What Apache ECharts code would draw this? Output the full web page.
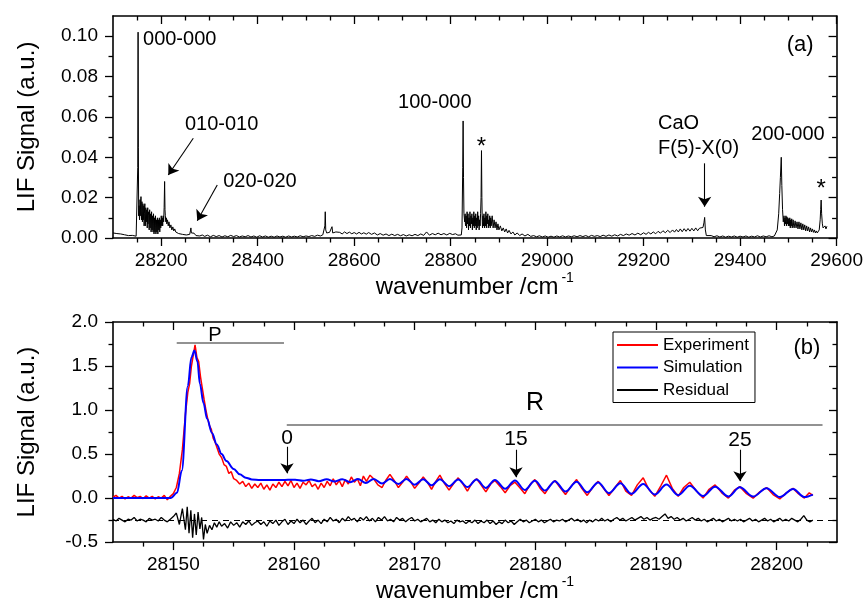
<!DOCTYPE html>
<html>
<head>
<meta charset="utf-8">
<script src="https://cdn.jsdelivr.net/npm/echarts@6/dist/echarts.min.js"></script>
<style>
  html, body { margin: 0; padding: 0; background: #fff; }
  #chart { width: 866px; height: 604px; }
</style>
</head>
<body>
<div id="chart"></div>
<script>
// ---------- (a) survey LIF spectrum, [wavenumber (cm-1), signal (a.u.)] ----------
const surveySpectrum = [
  [28100,0.0025],[28104,0.0018],[28108,0.0022],[28112,0.0028],[28116,0.002],[28120,0.0024],[28124,0.0016],
  [28128,0.0021],[28132,0.0012],[28136,0.0008],[28140,0.0013],[28144,0.0006],[28148,0.0009],[28150.5,0.0012],
  [28151.3,0.035],[28152,0.102],[28152.6,0.045],[28153.2,0.011],
  [28154,0.016],[28154.5,0.012],[28155,0.009],[28156,0.019],[28156.5,0.011],[28157,0.014],[28158,0.0205],[28158.5,0.012],
  [28159,0.009],[28160,0.018],[28160.5,0.013],[28161,0.008],[28162,0.017],[28162.5,0.011],[28163,0.009],[28164,0.016],
  [28164.5,0.006],[28165,0.012],[28166,0.017],[28166.5,0.009],[28167,0.006],[28168,0.015],[28168.5,0.011],[28169,0.008],
  [28170,0.014],[28170.5,0.009],[28171,0.005],[28172,0.015],[28172.5,0.007],[28173,0.011],[28174,0.013],[28174.5,0.006],
  [28175,0.004],[28176,0.014],[28176.5,0.008],[28177,0.005],[28178,0.012],[28178.5,0.009],[28179,0.003],[28180,0.013],
  [28180.5,0.007],[28181,0.004],[28182,0.011],[28182.5,0.006],[28183,0.003],[28184,0.012],[28184.5,0.007],[28185,0.002],
  [28186,0.010],[28186.5,0.005],[28187,0.003],[28188,0.011],[28188.5,0.006],[28189,0.002],[28190,0.009],[28191,0.003],
  [28192,0.010],[28193,0.002],[28194,0.009],[28195,0.004],[28196,0.010],[28197,0.003],[28198,0.009],[28199,0.005],
  [28200,0.011],[28201,0.006],[28202,0.010],[28203,0.006],[28204,0.011],[28205,0.008],[28206,0.015],[28207,0.028],
  [28207.8,0.014],[28208.5,0.011],[28209.5,0.008],[28210.5,0.010],[28211.5,0.007],[28213,0.009],[28214.5,0.006],
  [28216,0.008],[28218,0.005],[28220,0.0065],[28222,0.004],[28224,0.0055],[28226,0.0035],[28228,0.0045],[28230,0.003],
  [28233,0.0038],[28236,0.0022],[28240,0.003],[28244,0.0018],[28248,0.0024],[28252,0.0015],[28256,0.002],
  [28259,0.0018],[28260.5,0.0035],[28261.5,0.005],[28262.5,0.0025],[28265,0.0018],[28268,0.0024],[28272,0.0012],
  [28276,0.0018],[28280,0.001],[28285,0.0015],[28290,0.0008],[28296,0.0014],[28302,0.0006],[28308,0.0013],
  [28314,0.0007],[28320,0.0012],[28326,0.0005],[28332,0.0011],[28338,0.0006],[28344,0.0013],[28350,0.0007],
  [28356,0.0012],[28362,0.0005],[28368,0.001],[28374,0.0006],[28380,0.0012],[28386,0.0005],[28392,0.001],
  [28398,0.0004],[28404,0.0011],[28410,0.0005],[28416,0.001],[28422,0.0004],[28428,0.0009],[28434,0.0004],
  [28440,0.001],[28446,0.0005],[28452,0.0009],[28458,0.0004],[28464,0.001],[28470,0.0005],[28476,0.0009],
  [28482,0.0005],[28488,0.0011],[28494,0.0006],[28500,0.001],[28506,0.0007],[28512,0.0012],[28518,0.0008],
  [28524,0.0014],[28530,0.001],[28535,0.0016],[28538,0.002],[28539.2,0.006],[28540,0.013],[28541,0.004],
  [28543,0.0025],[28546,0.0018],[28549,0.0028],[28552,0.0022],[28554,0.0056],[28555.5,0.0025],[28558,0.002],
  [28562,0.003],[28566,0.0022],[28570,0.0028],[28575,0.002],[28580,0.003],[28585,0.0022],[28590,0.0029],
  [28595,0.0021],[28600,0.0027],[28605,0.002],[28610,0.0028],[28615,0.002],[28620,0.0026],[28625,0.0019],
  [28630,0.0027],[28636,0.0018],[28642,0.0025],[28648,0.0015],[28654,0.0022],[28660,0.0014],[28666,0.002],
  [28672,0.0012],[28678,0.0019],[28684,0.0012],[28690,0.0018],[28696,0.0011],[28702,0.0017],[28708,0.001],
  [28714,0.0016],[28720,0.0011],[28726,0.0018],[28732,0.0012],[28738,0.002],[28744,0.0013],[28750,0.003],
  [28756,0.0014],[28762,0.0022],[28768,0.0016],[28774,0.0024],[28780,0.0016],[28786,0.0022],[28792,0.0015],
  [28798,0.0023],[28804,0.0017],[28810,0.0021],[28815,0.0014],[28819,0.0018],[28822,0.0015],[28823.5,0.005],
  [28825,0.035],[28825.8,0.058],[28826.6,0.03],[28827.5,0.012],[28829,0.008],[28830,0.012],[28830.5,0.007],
  [28831,0.006],[28832,0.011],[28833,0.005],[28833.5,0.009],[28834,0.013],[28835,0.007],[28836,0.012],[28837,0.004],
  [28837.5,0.008],[28838,0.010],[28839,0.006],[28840,0.013],[28840.5,0.008],[28841,0.005],[28842,0.011],[28843,0.007],
  [28844,0.012],[28845,0.004],[28845.5,0.009],[28846,0.010],[28847,0.006],[28848,0.013],[28849,0.005],[28849.5,0.01],
  [28850,0.011],[28851,0.006],[28852,0.012],[28853,0.004],[28853.5,0.008],[28854,0.010],[28855,0.005],[28856,0.013],
  [28857,0.006],[28857.5,0.01],[28858,0.011],[28859,0.004],[28860,0.009],[28861,0.006],[28862,0.012],[28863,0.02],
  [28863.9,0.0433],[28864.7,0.02],[28865.5,0.008],[28866,0.005],[28867,0.011],[28867.5,0.008],[28868,0.006],
  [28869,0.012],[28870,0.005],[28870.5,0.009],[28871,0.010],[28872,0.006],[28873,0.013],[28874,0.005],[28874.5,0.009],
  [28875,0.011],[28876,0.007],[28877,0.012],[28878,0.005],[28879,0.009],[28880,0.006],[28881,0.011],[28882,0.005],
  [28883,0.010],[28884,0.006],[28886,0.011],[28888,0.005],[28890,0.009],[28892,0.005],[28894,0.008],[28896,0.004],
  [28898,0.007],[28900,0.004],[28903,0.006],[28906,0.0035],[28909,0.005],[28912,0.003],[28915,0.0045],
  [28918,0.0025],[28921,0.0038],[28925,0.002],[28929,0.003],[28933,0.0015],[28938,0.0025],[28943,0.0012],
  [28948,0.002],[28954,0.001],[28960,0.0018],[28966,0.0008],[28972,0.0012],[28978,0.0006],[28984,0.0011],
  [28990,0.0005],[28996,0.001],[29002,0.0004],[29008,0.0009],[29014,0.0004],[29020,0.001],[29026,0.0005],
  [29032,0.0011],[29038,0.0005],[29044,0.001],[29050,0.0006],[29056,0.0011],[29062,0.0006],[29068,0.0012],
  [29074,0.0007],[29080,0.0012],[29086,0.0006],[29092,0.0013],[29098,0.0008],[29104,0.0012],[29110,0.0007],
  [29116,0.0014],[29122,0.0008],[29128,0.0015],[29134,0.0009],[29140,0.0016],[29146,0.001],[29152,0.0018],
  [29158,0.0012],[29164,0.002],[29170,0.0014],[29176,0.0022],[29182,0.0015],[29188,0.0024],[29194,0.0016],
  [29200,0.0026],[29205,0.0018],[29210,0.0028],[29215,0.002],[29220,0.003],[29225,0.0021],[29230,0.0033],
  [29235,0.0024],[29240,0.0036],[29245,0.0026],[29250,0.0038],[29255,0.0027],[29260,0.004],[29264,0.0029],
  [29268,0.0042],[29272,0.003],[29276,0.0045],[29280,0.0031],[29284,0.0046],[29288,0.0033],[29292,0.0047],
  [29296,0.0034],[29300,0.0048],[29304,0.0035],[29308,0.005],[29312,0.0036],[29316,0.0049],[29320,0.004],
  [29323,0.0052],[29325,0.0075],[29326.5,0.0102],[29328,0.004],[29330,0.0012],[29334,0.0008],[29340,0.0012],
  [29346,0.0006],[29352,0.0011],[29358,0.0005],[29364,0.001],[29370,0.0004],[29376,0.0009],[29382,0.0005],
  [29388,0.001],[29394,0.0004],[29400,0.0009],[29406,0.0005],[29412,0.001],[29418,0.0004],[29424,0.0009],
  [29430,0.0005],[29436,0.0011],[29442,0.0005],[29448,0.001],[29454,0.0006],[29460,0.0011],[29466,0.0006],
  [29471,0.001],[29474,0.0015],[29477,0.004],[29480,0.012],[29482,0.022],[29483.5,0.03],[29485.3,0.040],
  [29486.5,0.026],[29488,0.014],[29489.5,0.008],[29491,0.011],[29492,0.006],[29492.5,0.009],[29493,0.01],
  [29494,0.007],[29495,0.011],[29496,0.006],[29496.5,0.008],[29497,0.0105],[29498,0.007],[29499,0.01],[29500,0.006],
  [29500.5,0.0085],[29501,0.0095],[29502,0.006],[29503,0.01],[29504,0.005],[29504.5,0.008],[29505,0.009],
  [29506,0.006],[29507,0.0095],[29508,0.005],[29510,0.009],[29511,0.006],[29512,0.005],[29514,0.0085],[29516,0.005],
  [29518,0.008],[29520,0.0045],[29522,0.008],[29524,0.0045],[29526,0.0075],[29528,0.004],[29530,0.007],
  [29532,0.004],[29534,0.0065],[29536,0.0035],[29538,0.006],[29540,0.0035],[29542,0.0055],[29544,0.003],
  [29546,0.005],[29548,0.003],[29550,0.0045],[29552,0.0028],[29554,0.004],[29556,0.0025],[29558,0.0035],
  [29560,0.0025],[29562,0.003],[29564,0.004],[29566,0.009],[29567,0.014],[29568,0.0188],[29569,0.012],
  [29570.5,0.007],[29572,0.005],[29574,0.0042],[29576,0.006],[29578,0.0045],[29580,0.0058]
];

// ---------- (b) 000-000 band: experiment, simulation and residual ----------
const experiment = [
  [28145,0.01],[28145.25,0.03],[28145.5,0.0],[28145.75,0.02],[28146,-0.01],[28146.25,0.015],[28146.5,0.0],
  [28146.75,0.03],[28147,0.005],[28147.25,0.02],[28147.5,-0.005],[28147.75,0.025],[28148,0.0],[28148.25,0.02],
  [28148.5,-0.01],[28148.75,0.015],[28149,0.0],[28149.25,0.03],[28149.5,-0.02],[28149.75,0.02],[28150,0.05],
  [28150.25,0.12],[28150.5,0.28],[28150.75,0.55],[28151,0.95],[28151.2,1.2],[28151.35,1.3],[28151.5,1.5],
  [28151.65,1.62],[28151.8,1.74],[28151.95,1.6],[28152.1,1.55],[28152.25,1.38],[28152.4,1.25],[28152.55,1.12],
  [28152.7,1.0],[28152.85,0.9],[28153,0.82],[28153.15,0.78],[28153.3,0.68],[28153.45,0.64],[28153.6,0.58],
  [28153.8,0.5],[28154,0.46],[28154.2,0.38],[28154.4,0.36],[28154.6,0.28],[28154.8,0.3],[28155,0.22],
  [28155.25,0.2],[28155.5,0.16],[28155.75,0.19],[28156,0.13],[28156.25,0.17],[28156.5,0.11],[28156.75,0.16],
  [28157,0.12],[28157.25,0.17],[28157.5,0.10],[28157.75,0.15],[28158,0.09],[28158.25,0.16],[28158.5,0.12],
  [28158.75,0.18],[28159,0.13],[28159.25,0.19],[28159.5,0.14],[28159.75,0.2],[28160,0.12],[28160.25,0.17],
  [28160.5,0.11],[28160.75,0.18],[28161,0.15],[28161.25,0.2],[28161.5,0.13],[28161.75,0.16],[28162,0.10],
  [28162.25,0.17],[28162.5,0.12],[28162.75,0.19],[28163,0.14],[28163.25,0.22],[28163.5,0.15],[28163.75,0.2],
  [28164,0.13],[28164.25,0.21],[28164.5,0.16],[28164.75,0.24],[28165,0.18],[28165.25,0.22],[28165.5,0.14],
  [28165.75,0.25],[28166,0.19],[28166.3,0.26],[28166.6,0.22],[28166.95,0.15],[28167.3,0.12],[28167.6,0.2],
  [28167.95,0.27],[28168.3,0.2],[28168.65,0.12],[28169,0.18],[28169.33,0.25],[28169.65,0.19],[28170,0.11],
  [28170.35,0.17],[28170.71,0.24],[28171.05,0.18],[28171.4,0.1],[28171.75,0.19],[28172.09,0.26],[28172.45,0.17],
  [28172.85,0.09],[28173.2,0.16],[28173.61,0.23],[28174,0.16],[28174.37,0.08],[28174.75,0.17],[28175.13,0.22],
  [28175.5,0.15],[28175.9,0.07],[28176.3,0.16],[28176.65,0.2],[28177.1,0.13],[28177.5,0.06],[28177.9,0.14],
  [28178.31,0.18],[28178.7,0.12],[28179.13,0.05],[28179.55,0.15],[28179.96,0.21],[28180.4,0.11],[28180.8,0.05],
  [28181.2,0.14],[28181.62,0.2],[28182.05,0.12],[28182.5,0.04],[28182.95,0.13],[28183.42,0.21],[28183.85,0.11],
  [28184.3,0.03],[28184.75,0.12],[28185.21,0.19],[28185.65,0.11],[28186.1,0.03],[28186.6,0.12],[28187.05,0.2],
  [28187.5,0.08],[28187.97,0.03],[28188.45,0.15],[28188.94,0.23],[28189.4,0.1],[28189.9,0.02],[28190.4,0.14],
  [28190.87,0.26],[28191.35,0.11],[28191.84,0.02],[28192.3,0.12],[28192.8,0.18],[28193.35,0.08],[28193.9,0.0],
  [28194.4,0.1],[28194.9,0.15],[28195.45,0.06],[28196,0.0],[28196.5,0.09],[28196.95,0.13],[28197.5,0.05],
  [28198.05,0.0],[28198.6,0.07],[28199.16,0.12],[28199.7,0.04],[28200.26,-0.01],[28200.8,0.06],[28201.36,0.11],
  [28201.8,0.05],[28202.3,0.0],[28202.7,0.06],[28203,0.03]
];

const simulation = [
  [28145,0.0],[28148,0.0],[28149.8,0.002],[28150.3,0.06],[28150.7,0.31],[28151.2,1.27],[28151.5,1.6],
  [28151.75,1.675],[28152,1.55],[28152.2,1.30],[28152.5,1.08],[28152.8,0.90],[28153.2,0.74],[28153.6,0.61],
  [28154,0.50],[28154.4,0.42],[28155,0.33],[28155.5,0.27],[28156,0.232],[28156.5,0.212],[28157.2,0.205],
  [28158,0.205],[28159,0.206],[28159.5,0.207],
  [28160.1,0.207],[28160.75,0.196],[28161.4,0.212],[28162.05,0.192],[28162.7,0.214],[28163.35,0.188],
  [28164,0.215],[28164.65,0.180],[28165.3,0.217],[28165.95,0.172],[28166.6,0.218],[28167.3,0.165],
  [28167.95,0.218],[28168.65,0.160],[28169.33,0.217],[28170,0.152],[28170.71,0.215],[28171.4,0.145],
  [28172.09,0.214],[28172.85,0.135],[28173.61,0.212],[28174.37,0.125],[28175.13,0.210],[28175.9,0.115],
  [28176.65,0.206],[28177.5,0.105],[28178.31,0.200],[28179.13,0.092],[28179.96,0.196],[28180.8,0.085],
  [28181.62,0.192],[28182.5,0.074],[28183.42,0.186],[28184.3,0.066],[28185.21,0.178],[28186.1,0.056],
  [28187.05,0.168],[28187.97,0.048],[28188.94,0.160],[28189.9,0.040],[28190.87,0.153],[28191.84,0.033],
  [28192.8,0.141],[28193.9,0.024],[28194.9,0.130],[28196,0.019],[28196.95,0.123],[28198.05,0.017],
  [28199.16,0.112],[28200.26,0.011],[28201.36,0.104],[28202.3,0.012],[28203,0.040]
];

const residual = [
  [28145,-0.24],[28145.25,-0.26],[28145.5,-0.23],[28145.75,-0.25],[28146,-0.27],[28146.25,-0.24],[28146.5,-0.25],
  [28146.75,-0.22],[28147,-0.26],[28147.25,-0.24],[28147.5,-0.25],[28147.75,-0.27],[28148,-0.23],[28148.25,-0.25],
  [28148.5,-0.24],[28148.75,-0.26],[28149,-0.22],[28149.25,-0.25],[28149.5,-0.27],[28149.75,-0.24],[28150,-0.21],
  [28150.25,-0.17],[28150.5,-0.30],[28150.75,-0.12],[28151,-0.36],[28151.15,-0.10],[28151.3,-0.40],[28151.45,-0.14],
  [28151.6,-0.45],[28151.75,-0.18],[28151.9,-0.42],[28152.05,-0.16],[28152.2,-0.35],[28152.35,-0.22],[28152.5,-0.47],
  [28152.65,-0.30],[28152.8,-0.40],[28153,-0.31],[28153.2,-0.36],[28153.4,-0.28],[28153.6,-0.33],[28153.8,-0.27],
  [28154,-0.32],[28154.25,-0.29],[28154.5,-0.34],[28154.75,-0.27],[28155,-0.31],[28155.25,-0.28],[28155.5,-0.33],
  [28155.75,-0.27],[28156,-0.30],[28156.25,-0.26],[28156.5,-0.31],[28156.75,-0.28],[28157,-0.26],[28157.25,-0.30],
  [28157.5,-0.27],[28157.75,-0.32],[28158,-0.26],[28158.25,-0.29],[28158.5,-0.25],[28158.75,-0.31],[28159,-0.27],
  [28159.25,-0.24],[28159.5,-0.30],[28159.75,-0.26],[28160,-0.29],[28160.25,-0.24],[28160.5,-0.28],[28160.75,-0.25],
  [28161,-0.30],[28161.25,-0.26],[28161.5,-0.23],[28161.75,-0.28],[28162,-0.25],[28162.25,-0.29],[28162.5,-0.24],
  [28162.75,-0.27],[28163,-0.22],[28163.25,-0.26],[28163.5,-0.24],[28163.75,-0.28],[28164,-0.23],[28164.25,-0.26],
  [28164.5,-0.21],[28164.75,-0.25],[28165,-0.23],[28165.25,-0.27],[28165.5,-0.22],[28165.75,-0.25],[28166,-0.21],
  [28166.25,-0.26],[28166.5,-0.23],[28166.75,-0.27],[28167,-0.22],[28167.25,-0.25],[28167.5,-0.21],[28167.75,-0.26],
  [28168,-0.24],[28168.25,-0.27],[28168.5,-0.22],[28168.75,-0.25],[28169,-0.23],[28169.25,-0.27],[28169.5,-0.24],
  [28169.75,-0.22],[28170,-0.26],[28170.25,-0.24],[28170.5,-0.27],[28170.75,-0.25],[28171,-0.23],[28171.25,-0.27],
  [28171.5,-0.25],[28171.75,-0.28],[28172,-0.24],[28172.25,-0.27],[28172.5,-0.25],[28172.75,-0.28],[28173,-0.26],
  [28173.25,-0.29],[28173.5,-0.25],[28173.75,-0.27],[28174,-0.26],[28174.25,-0.29],[28174.5,-0.26],[28174.75,-0.28],
  [28175,-0.25],[28175.25,-0.29],[28175.5,-0.26],[28175.75,-0.28],[28176,-0.25],[28176.25,-0.29],[28176.5,-0.26],
  [28176.75,-0.30],[28177,-0.27],[28177.25,-0.29],[28177.5,-0.25],[28177.75,-0.28],[28178,-0.26],[28178.25,-0.30],
  [28178.5,-0.27],[28178.75,-0.24],[28179,-0.27],[28179.25,-0.25],[28179.5,-0.28],[28179.75,-0.26],[28180,-0.24],
  [28180.25,-0.27],[28180.5,-0.25],[28180.75,-0.28],[28181,-0.26],[28181.25,-0.24],[28181.5,-0.27],[28181.75,-0.25],
  [28182,-0.26],[28182.25,-0.24],[28182.5,-0.27],[28182.75,-0.25],[28183,-0.23],[28183.25,-0.26],[28183.5,-0.24],
  [28183.75,-0.27],[28184,-0.25],[28184.25,-0.28],[28184.5,-0.25],[28184.75,-0.27],[28185,-0.24],[28185.25,-0.26],
  [28185.5,-0.23],[28185.75,-0.26],[28186,-0.24],[28186.25,-0.27],[28186.5,-0.24],[28186.75,-0.22],[28187,-0.25],
  [28187.25,-0.23],[28187.5,-0.26],[28187.75,-0.24],[28188,-0.22],[28188.25,-0.25],[28188.5,-0.23],[28188.75,-0.21],
  [28189,-0.24],[28189.25,-0.22],[28189.5,-0.25],[28189.75,-0.23],[28190,-0.22],[28190.25,-0.24],[28190.5,-0.21],
  [28190.75,-0.18],[28191,-0.23],[28191.25,-0.21],[28191.5,-0.24],[28191.75,-0.22],[28192,-0.25],[28192.25,-0.23],
  [28192.5,-0.26],[28192.75,-0.24],[28193,-0.22],[28193.25,-0.25],[28193.5,-0.23],[28193.75,-0.26],[28194,-0.24],
  [28194.25,-0.27],[28194.5,-0.25],[28194.75,-0.23],[28195,-0.26],[28195.25,-0.24],[28195.5,-0.27],[28195.75,-0.25],
  [28196,-0.23],[28196.25,-0.26],[28196.5,-0.24],[28196.75,-0.26],[28197,-0.24],[28197.25,-0.27],[28197.5,-0.25],
  [28197.75,-0.23],[28198,-0.26],[28198.25,-0.24],[28198.5,-0.27],[28198.75,-0.25],[28199,-0.23],[28199.25,-0.26],
  [28199.5,-0.24],[28199.75,-0.27],[28200,-0.25],[28200.25,-0.23],[28200.5,-0.26],[28200.75,-0.24],[28201,-0.26],
  [28201.25,-0.23],[28201.5,-0.25],[28201.75,-0.27],[28202,-0.24],[28202.25,-0.20],[28202.5,-0.25],[28202.75,-0.27],
  [28203,-0.25]
];
const residualOffset = -0.25;

// ---------- tick labels ----------
const surveyXLabels = [28200, 28400, 28600, 28800, 29000, 29200, 29400, 29600];
const surveyYLabels = [0, 0.02, 0.04, 0.06, 0.08, 0.10];
const zoomXLabels = [28150, 28160, 28170, 28180, 28190, 28200];
const zoomYLabels = [-0.5, 0, 0.5, 1.0, 1.5, 2.0];

// ---------- helpers ----------
const FONT = '"Liberation Sans", Arial, Helvetica, sans-serif';

function minorTicks(min, max, step, majors) {
  const out = [];
  const n = Math.round((max - min) / step);
  for (let i = 1; i < n; i++) {
    const v = +(min + i * step).toFixed(6);
    if (!majors.some(m => Math.abs(m - v) < step / 10)) out.push(v);
  }
  return out;
}

// Four axes per direction: labelled major + minor on bottom/left, mirrored (inward) on top/right
function frameAxes(dim, gridIndex, min, max, majors, minors, fmt, extra) {
  const sides = dim === 'x' ? ['bottom', 'top'] : ['left', 'right'];
  const make = (pos, inside, values, len, showLine, labels) => ({
    type: 'value', gridIndex, min, max, position: pos,
    splitLine: { show: false },
    axisLine: showLine ? { show: true, onZero: false, lineStyle: { color: '#000', width: 1.6 } }
                       : { show: false, onZero: false },
    axisTick: { show: true, inside, length: len, customValues: values,
                lineStyle: { color: '#000', width: 1.3 } },
    axisLabel: labels ? { show: true, customValues: majors, formatter: fmt, fontSize: 19,
                          color: '#000', fontFamily: FONT, margin: dim === 'x' ? 13 : 15 }
                      : { show: false }
  });
  const main = Object.assign(make(sides[0], false, majors, 8, true, true), extra || {});
  return [
    main,
    make(sides[0], false, minors, 4.5, false, false),
    make(sides[1], true, majors, 8, true, false),
    make(sides[1], true, minors, 4.5, false, false)
  ];
}

const xName = {
  name: '{t|wavenumber /cm}{s|-1}',
  nameLocation: 'middle',
  nameGap: 31,
  nameTextStyle: {
    rich: {
      t: { fontSize: 24, fontFamily: FONT, color: '#000', lineHeight: 28, verticalAlign: 'bottom' },
      s: { fontSize: 14, fontFamily: FONT, color: '#000', lineHeight: 28, verticalAlign: 'top', padding: [0, 0, 0, 3] }
    }
  }
};
const yName = {
  name: 'LIF Signal (a.u.)',
  nameLocation: 'middle',
  nameGap: 74,
  nameTextStyle: { fontSize: 24, fontFamily: FONT, color: '#000' }
};

function note(text, coord, opts) {
  opts = opts || {};
  return {
    coord, symbol: 'circle', symbolSize: 1, itemStyle: { color: 'rgba(0,0,0,0)' },
    label: { show: true, position: 'inside', formatter: text, color: '#000',
             fontFamily: FONT, fontSize: opts.size || 20, fontWeight: opts.weight || 'normal',
             align: opts.align || 'center', verticalAlign: 'middle' }
  };
}
function seg(a, b) { return [{ coord: a }, { coord: b }]; }

const arrowLine = {
  silent: true, symbol: ['none', 'arrow'], symbolSize: 10,
  label: { show: false },
  lineStyle: { color: '#000', width: 1.1, type: 'solid' },
  itemStyle: { color: '#000' }
};

// ---------- axes ----------
const xAxes = [].concat(
  frameAxes('x', 0, 28100, 29600, surveyXLabels, minorTicks(28100, 29600, 50, surveyXLabels),
            v => String(v), xName),
  frameAxes('x', 1, 28145, 28205, zoomXLabels, minorTicks(28145, 28205, 2.5, zoomXLabels),
            v => String(v), xName)
);
const yAxes = [].concat(
  frameAxes('y', 0, 0, 0.11, surveyYLabels, minorTicks(0, 0.11, 0.01, surveyYLabels),
            v => v.toFixed(2), yName),
  frameAxes('y', 1, -0.5, 2.0, zoomYLabels, minorTicks(-0.5, 2.0, 0.25, zoomYLabels),
            v => v.toFixed(1), yName)
);

const option = {
  animation: false,
  backgroundColor: '#fff',
  textStyle: { fontFamily: FONT, color: '#000' },
  grid: [
    { left: 113, right: 29, top: 16, height: 222 },
    { left: 113, right: 29, top: 322, height: 224 }
  ],
  xAxis: xAxes,
  yAxis: yAxes,
  legend: {
    data: ['Experiment', 'Simulation', 'Residual'],
    orient: 'vertical', left: 613, top: 332,
    icon: 'rect', itemWidth: 41, itemHeight: 2, itemGap: 5.5,
    padding: [4.5, 6, 4, 4],
    borderColor: '#000', borderWidth: 1, borderRadius: 0,
    selectedMode: false,
    textStyle: { fontSize: 17, color: '#000', fontFamily: FONT }
  },
  series: [
    {
      name: 'Survey', type: 'line', xAxisIndex: 0, yAxisIndex: 0,
      data: surveySpectrum, symbol: 'none', silent: true,
      lineStyle: { color: '#000', width: 1 },
      markPoint: {
        silent: true,
        data: [
          note('000-000', [28162.2, 0.0986], { align: 'left' }),
          note('010-010', [28249.2, 0.0560], { align: 'left' }),
          note('020-020', [28328.5, 0.0279], { align: 'left' }),
          note('100-000', [28767.1, 0.0670]),
          note('*', [28863.9, 0.0448], { size: 24 }),
          note('CaO', [29229.8, 0.0565], { align: 'left' }),
          note('F(5)-X(0)', [29229.8, 0.0444], { align: 'left' }),
          note('200-000', [29423.3, 0.0515], { align: 'left' }),
          note('*', [29568.2, 0.0241], { size: 24 }),
          note('(a)', [29524.4, 0.0956], { size: 22 })
        ]
      },
      markLine: Object.assign({}, arrowLine, {
        data: [
          seg([28266.4, 0.0494], [28214.6, 0.0312]),
          seg([28316.1, 0.0263], [28274.7, 0.0086]),
          seg([29326.5, 0.0370], [29326.5, 0.0155])
        ]
      })
    },
    {
      name: 'Experiment', type: 'line', xAxisIndex: 4, yAxisIndex: 4,
      data: experiment, symbol: 'none', silent: true,
      lineStyle: { color: '#ff0000', width: 1.5 }, itemStyle: { color: '#ff0000' }
    },
    {
      name: 'Simulation', type: 'line', xAxisIndex: 4, yAxisIndex: 4,
      data: simulation, symbol: 'none', silent: true, smooth: 0.35, smoothMonotone: 'x',
      lineStyle: { color: '#0000ff', width: 2 }, itemStyle: { color: '#0000ff' },
      markPoint: {
        silent: true,
        data: [
          note('P', [28153.45, 1.85], { size: 20 }),
          note('R', [28179.97, 1.074], { size: 25 }),
          note('0', [28159.42, 0.683], { size: 21 }),
          note('15', [28178.4, 0.666], { size: 21 }),
          note('25', [28196.96, 0.661], { size: 21 }),
          note('(b)', [28202.5, 1.710], { size: 22 })
        ]
      },
      markLine: {
        silent: true, symbol: ['none', 'none'], label: { show: false },
        lineStyle: { color: '#6e6e6e', width: 1.5, type: 'solid' },
        data: [
          seg([28150.28, 1.762], [28159.17, 1.762]),
          seg([28159.4, 0.831], [28203.8, 0.831])
        ]
      }
    },
    {
      name: 'Residual', type: 'line', xAxisIndex: 4, yAxisIndex: 4,
      data: residual, symbol: 'none', silent: true,
      lineStyle: { color: '#000', width: 1.3 }, itemStyle: { color: '#000' },
      markLine: Object.assign({}, arrowLine, {
        data: [
          seg([28159.42, 0.583], [28159.42, 0.281]),
          seg([28178.4, 0.549], [28178.4, 0.237]),
          seg([28196.96, 0.549], [28196.96, 0.192])
        ]
      })
    },
    {
      name: 'Offset', type: 'line', xAxisIndex: 4, yAxisIndex: 4,
      data: [], symbol: 'none', silent: true,
      markLine: {
        silent: true, symbol: ['none', 'none'], label: { show: false },
        lineStyle: { color: '#000', width: 1, type: [6, 5] },
        data: [{ yAxis: residualOffset }]
      }
    }
  ]
};

const chart = echarts.init(document.getElementById('chart'), null, { renderer: 'canvas' });
chart.setOption(option);
</script>
</body>
</html>
